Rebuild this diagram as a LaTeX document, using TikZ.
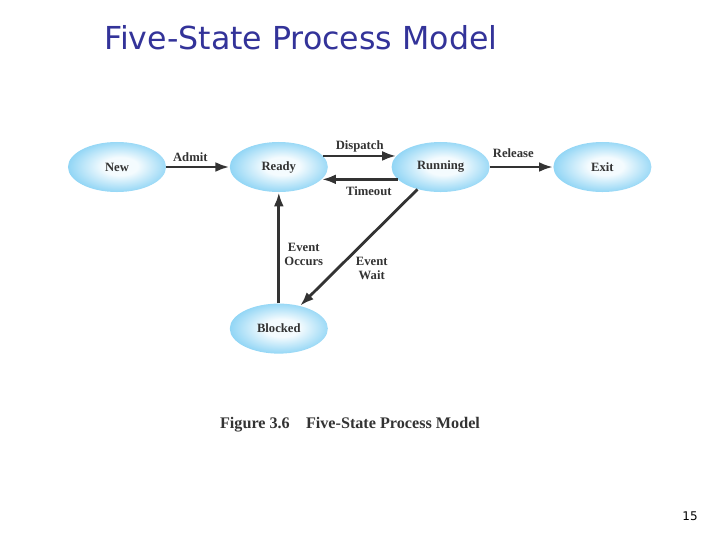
\documentclass[tikz,border=0pt]{standalone}
\usepackage{fontspec}
\setmainfont{Liberation Serif}
\newfontfamily\titoloFont{DejaVu Sans}
\usetikzlibrary{shapes.geometric, arrows.meta, positioning}
\usepackage{xcolor}
\definecolor{statoScuro}{RGB}{22,158,222}
\definecolor{statoMedio}{RGB}{110,200,242}
\definecolor{statoChiaro}{RGB}{244,251,254}
\definecolor{testoScuro}{RGB}{51,51,51}
\definecolor{titoloBlu}{RGB}{51,51,153}
\pgfdeclareradialshading{statoSfumato}{\pgfpoint{2bp}{1bp}}{color(0bp)=(statoChiaro); color(9bp)=(statoChiaro); color(32bp)=(statoMedio); color(50bp)=(statoScuro)}

\begin{document}
\begin{tikzpicture}[x = 0.025cm, y = -0.025cm,
    stato/.style = {ellipse, shading = statoSfumato, minimum width = 2.45cm, minimum height = 1.25cm, inner sep = 0pt, text = testoScuro, font = \bfseries\fontsize{9}{10.5}\selectfont},
    freccia/.style = {-{Latex[length = 10pt, width = 7pt]}, line width = 2pt, draw = testoScuro},
    etichetta/.style = {inner sep = 1pt, text = testoScuro, align = center, font = \bfseries\fontsize{9}{10.5}\selectfont},
    node distance = 1.58cm]
    % Cornice
    \useasboundingbox (0,0) rectangle (720,540);
    \node[anchor = west, inner sep = 0pt, text = titoloBlu, font = \titoloFont\fontsize{22.5}{27}\selectfont] (titolo) at (104,38) {Five-State Process Model};
    % Stati
    \node[stato] (new) at (117,167) {New};
    \node[stato, right = of new] (ready) {Ready};
    \node[stato, right = of ready] (running) {Running};
    \node[stato, right = of running] (exit) {Exit};
    \node[stato, below = 2.775cm of ready] (blocked) {Blocked};
    % Transizioni
    \draw[freccia] (new) -- node[etichetta, above = 2pt, pos = 0.38] {Admit} (ready);
    \draw[freccia] (ready.14) -- node[etichetta, above = 1pt] {Dispatch} (running.166);
    \draw[freccia] (running.196) -- node[etichetta, below = 3pt, pos = 0.38] {Timeout} (ready.-16);
    \draw[freccia] (running) -- node[etichetta, above = 5pt, pos = 0.37] {Release} (exit);
    \draw[freccia] (blocked) -- node[etichetta, right = 2pt, pos = 0.44] {Event\\Occurs} (ready);
    \draw[freccia] (running.224) -- node[etichetta, right = 11pt, pos = 0.68] {Event\\Wait} (blocked.47);
    % Didascalia e pagina
    \node[text = testoScuro, font = \bfseries\fontsize{11.5}{13}\selectfont] (didascalia) at (350,425) {Figure 3.6\quad Five-State Process Model};
    \node[font = \titoloFont\fontsize{8.5}{10}\selectfont] (pagina) at (690,516) {15};
\end{tikzpicture}
\end{document}
